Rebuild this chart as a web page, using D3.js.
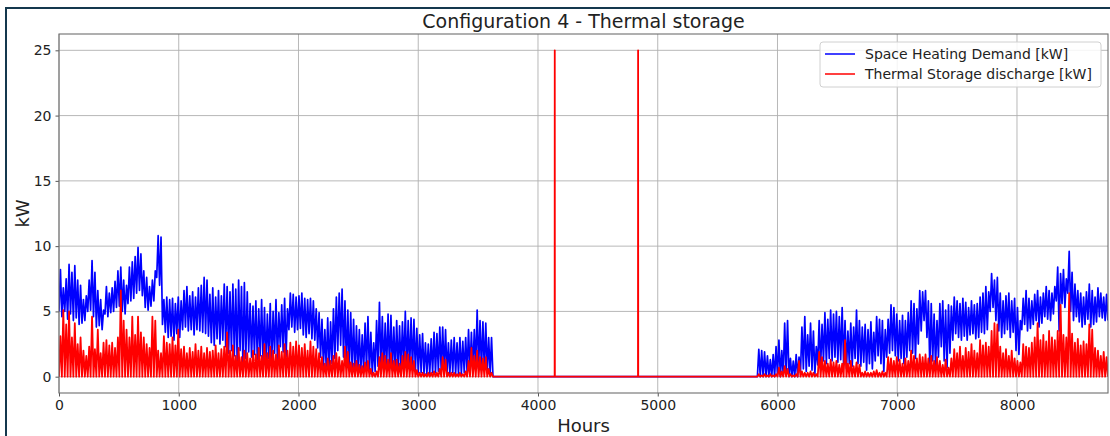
<!DOCTYPE html>
<html>
<head>
<meta charset="utf-8">
<script src="https://cdn.jsdelivr.net/npm/d3@7"></script>
<style>
  html, body { margin: 0; padding: 0; background: #fff; }
  svg { display: block; font-family: "DejaVu Sans", sans-serif; }
</style>
</head>
<body>
<svg id="chart" width="1110" height="436"></svg>
<script>
// ---------------- DATA ----------------
const title = "Configuration 4 - Thermal storage";
const xLabel = "Hours";
const yLabel = "kW";
const seriesNames = ["Space Heating Demand [kW]", "Thermal Storage discharge [kW]"];
const xTicks = [0, 1000, 2000, 3000, 4000, 5000, 6000, 7000, 8000];
const yTicks = [0, 5, 10, 15, 20, 25];
const hoursPerDay = 24;
const totalHours = 8760;

// Space heating demand: daily peak (kW), days 0..364
const demandDailyMax = [
 8.2,6.8,7.5,8.6,8.0,8.5,7.4,7.0,5.9,6.2,7.4,8.9,8.0,6.6,5.9,5.1,6.9,6.4,6.8,7.3,
 8.1,8.4,7.4,7.0,8.4,8.8,9.2,9.9,9.4,8.1,7.6,6.9,7.4,8.1,10.8,10.7,5.9,6.1,5.9,6.0,
 5.6,6.1,5.8,6.6,6.9,6.2,6.5,6.1,6.8,7.0,7.6,7.4,6.3,6.8,6.1,6.6,6.2,7.1,6.9,6.5,
 7.1,6.7,7.4,6.9,7.2,6.5,5.6,5.4,5.8,5.2,5.9,5.3,4.8,5.6,5.0,5.9,4.9,5.5,6.0,5.2,
 6.4,6.3,6.1,6.2,6.4,6.0,5.9,6.0,5.8,5.2,4.9,4.4,3.6,4.5,4.2,5.2,6.1,6.4,6.7,5.8,
 5.1,4.9,4.4,3.9,3.6,3.2,4.1,4.6,3.4,2.6,4.3,5.7,4.6,4.1,4.8,4.7,3.8,4.3,3.9,4.2,
 5.0,4.3,4.5,4.4,3.7,3.2,3.3,2.6,2.5,2.9,3.4,3.3,3.8,3.8,3.6,2.6,2.8,3.0,2.6,3.0,
 2.7,3.0,3.6,3.4,3.6,5.1,4.3,4.2,4.1,3.0,3.0,
 0,0,0,0,0,0,0,0,0,0,0,0,0,0,0,0,0,0,0,0,0,0,0,0,0,0,0,0,0,0,
 0,0,0,0,0,0,0,0,0,0,0,0,0,0,0,0,0,0,0,0,0,0,0,0,0,0,0,0,0,0,
 0,0,0,0,0,0,0,0,0,0,0,0,0,0,0,0,0,0,0,0,0,0,0,0,0,0,0,0,0,0,0,0,
 2.1,2.0,1.9,1.6,1.3,1.7,2.3,2.8,2.0,4.1,4.3,1.4,1.2,1.7,1.5,3.8,4.6,3.2,4.1,3.5,
 2.3,4.3,4.0,4.9,4.4,5.1,4.8,5.0,4.6,5.3,4.3,3.5,4.1,3.8,5.1,4.3,3.8,4.0,3.6,4.2,
 3.4,4.6,4.4,4.3,3.6,4.4,5.5,5.3,4.8,4.3,4.7,4.3,4.9,5.8,5.6,5.2,6.6,6.5,6.6,5.8,
 5.6,4.8,4.3,5.6,5.8,5.1,5.5,5.4,6.1,5.8,5.6,6.0,5.7,5.3,5.8,5.5,5.6,6.1,6.4,6.9,
 6.5,7.9,7.4,7.6,6.4,5.8,6.2,6.4,5.8,6.0,5.3,4.3,6.0,6.6,6.0,5.8,6.3,6.6,6.1,6.4,
 6.9,6.6,6.4,6.9,8.4,7.9,8.2,7.5,9.6,8.0,7.1,6.6,6.4,6.1,6.5,7.1,6.6,6.1,6.8,6.4,
 6.1,6.3
];

// Space heating demand: daily low (kW), days 0..364
const demandDailyMin = [
 5.0,4.6,5.0,4.4,4.8,4.3,4.5,4.0,4.1,4.3,5.0,5.1,4.6,3.8,3.9,3.6,4.8,4.6,4.9,5.0,
 5.3,5.4,5.0,4.8,5.6,5.8,6.0,6.4,6.6,6.2,5.3,5.1,5.4,5.8,7.6,7.0,4.0,3.4,3.0,3.1,
 2.8,3.3,3.0,3.6,3.8,3.5,3.6,3.2,3.6,3.5,3.4,3.3,3.1,2.6,2.4,2.9,2.5,2.8,2.3,1.8,
 2.0,1.6,1.2,2.0,0.8,1.4,1.9,1.5,1.7,1.3,1.6,1.2,1.0,1.4,0.9,1.8,1.3,2.3,1.9,1.5,
 3.6,3.8,3.4,3.6,3.7,3.2,3.0,3.3,2.9,2.8,2.2,1.5,0.8,0.6,0.5,1.0,1.4,2.0,2.4,1.5,
 0.8,0.6,0.5,0.4,0.4,0.3,0.5,0.6,0.3,0.2,0.4,0.8,0.6,0.5,0.7,0.6,0.5,0.4,0.4,0.5,
 0.7,0.5,0.6,0.5,0.4,0.3,0.3,0.2,0.2,0.2,0.3,0.3,0.4,0.4,0.3,0.2,0.2,0.3,0.2,0.2,
 0.2,0.3,0.3,0.3,0.4,0.8,0.6,0.5,0.5,0.3,0.2,
 0,0,0,0,0,0,0,0,0,0,0,0,0,0,0,0,0,0,0,0,0,0,0,0,0,0,0,0,0,0,
 0,0,0,0,0,0,0,0,0,0,0,0,0,0,0,0,0,0,0,0,0,0,0,0,0,0,0,0,0,0,
 0,0,0,0,0,0,0,0,0,0,0,0,0,0,0,0,0,0,0,0,0,0,0,0,0,0,0,0,0,0,0,0,
 0,0,0,0,0,0,0,0.1,0,0.1,0.2,0,0,0,0,0.3,0.6,0.4,0.8,0.5,
 0.2,0.9,0.7,1.2,1.0,1.4,1.2,1.5,1.1,1.3,0.9,0.6,1.0,0.8,1.4,1.0,0.8,1.1,0.5,1.0,
 0.6,1.2,1.6,1.0,0.4,1.5,1.8,2.0,1.6,1.2,1.4,1.0,1.5,2.0,1.8,1.4,2.5,3.5,4.3,3.0,
 0.7,1.2,0.8,1.5,2.3,1.2,0.7,1.8,2.8,3.3,3.0,2.8,3.1,2.8,3.2,3.3,2.9,3.0,3.4,3.3,
 3.6,5.0,5.3,4.3,3.5,3.0,3.3,3.6,3.0,3.4,2.0,1.7,3.6,4.0,3.5,3.7,4.0,4.3,3.8,4.1,
 4.6,4.4,4.3,4.8,5.8,3.5,5.6,5.3,6.4,5.0,4.3,4.6,4.2,3.8,4.0,4.4,3.8,4.0,4.2,4.6,
 4.5,4.3
];

// Thermal storage discharge: daily peak (kW), days 0..364 (0 = no discharge)
const storageDailyMax = [
 3.1,5.1,4.0,5.0,3.0,4.1,2.5,3.0,2.0,1.6,2.3,4.6,2.1,3.6,1.8,2.6,2.8,2.4,2.6,2.2,
 3.0,6.6,4.3,3.6,3.0,4.6,3.2,4.6,3.4,3.0,2.5,2.2,4.6,4.3,2.0,1.8,3.1,2.6,2.5,3.0,
 2.4,3.6,2.1,2.3,1.8,2.2,1.9,2.5,2.0,2.3,1.8,2.2,1.9,2.0,2.4,1.8,2.1,2.3,3.4,2.0,
 2.4,1.6,2.2,1.5,2.0,1.8,1.4,2.0,1.7,2.2,1.6,2.5,1.8,2.3,2.0,1.7,2.4,1.9,2.5,2.0,
 2.6,2.3,2.7,2.4,2.2,2.5,2.0,2.7,2.3,2.1,1.8,1.5,1.0,1.4,1.2,1.6,1.8,1.5,1.2,2.3,
 1.9,1.1,1.0,1.2,0.9,0.8,1.1,1.2,0.6,0.3,0.4,1.5,1.8,1.6,1.3,1.8,1.2,1.3,1.0,1.6,
 1.9,1.7,1.5,1.2,0.5,0.3,0.3,0.2,0.3,0.3,0.4,0.3,0.6,1.5,1.3,0.3,0.3,0.3,0.2,0.3,
 0.2,0.4,1.2,2.2,1.6,2.0,1.5,1.4,1.5,0.6,0.3,
 0,0,0,0,0,0,0,0,0,0,0,0,0,0,0,0,0,0,0,0,0,25,0,0,0,0,0,0,0,0,
 0,0,0,0,0,0,0,0,0,0,0,0,0,0,0,0,0,0,0,0,25,0,0,0,0,0,0,0,0,0,
 0,0,0,0,0,0,0,0,0,0,0,0,0,0,0,0,0,0,0,0,0,0,0,0,0,0,0,0,0,0,0,0,
 0.2,0.1,0.2,0.1,0.2,0.1,0.2,0.7,0.4,0.8,0.6,0.2,0.1,0.2,1.2,0.4,0.3,0.3,0.4,0.3,
 0.2,1.9,1.5,1.2,1.0,1.3,1.1,1.2,0.9,1.0,2.8,1.0,1.2,0.8,1.1,0.9,0.3,0.4,0.3,0.3,
 0.4,0.5,0.3,0.4,0.3,1.5,1.4,1.2,1.5,1.3,1.0,1.4,1.2,2.0,1.6,1.4,1.7,1.5,1.7,1.4,
 1.6,1.2,1.5,1.2,0.9,1.3,0.7,1.4,2.1,1.8,2.3,1.6,2.2,1.9,2.5,2.0,1.8,2.8,2.4,2.6,
 2.3,3.5,4.1,4.0,2.3,1.8,2.1,1.6,2.0,1.4,1.2,1.1,2.5,2.3,2.2,2.6,3.0,4.1,2.8,3.2,
 2.7,3.5,3.0,2.8,3.5,5.5,3.2,3.0,6.4,3.3,2.6,2.9,2.4,2.7,2.5,4.0,3.6,2.2,2.0,1.6,
 1.9,1.5
];

// ---------------- LAYOUT ----------------
const W = 1110, H = 436;
const plot = { left: 59, top: 34, right: 1108, bottom: 393 };
const colors = { demand: "#0000ff", storage: "#ff0000" };

const svg = d3.select("#chart");

// outer frame (notebook cell edge)
svg.append("path")
  .attr("d", `M6,${H} L6,8 L${W},8`)
  .attr("fill", "none").attr("stroke", "#14384d").attr("stroke-width", 2);

const x = d3.scaleLinear().domain([0, totalHours]).range([plot.left, plot.right]);
const y = d3.scaleLinear().domain([-1.25, 26.25]).range([plot.bottom, plot.top]);

// grid
const grid = svg.append("g");
grid.selectAll(".gx").data(xTicks).enter().append("line")
  .attr("x1", d => x(d)).attr("x2", d => x(d))
  .attr("y1", plot.top).attr("y2", plot.bottom)
  .attr("stroke", "#b0b0b0").attr("stroke-width", 0.9);
grid.selectAll(".gy").data(yTicks).enter().append("line")
  .attr("x1", plot.left).attr("x2", plot.right)
  .attr("y1", d => y(d)).attr("y2", d => y(d))
  .attr("stroke", "#b0b0b0").attr("stroke-width", 0.9);

// build series points from the daily readings
function demandPoints() {
  const pts = [];
  demandDailyMin.forEach((lo, d) => {
    pts.push([d * hoursPerDay, lo]);
    pts.push([d * hoursPerDay + 12, demandDailyMax[d]]);
  });
  pts.push([totalHours - 1, demandDailyMin[demandDailyMin.length - 1]]);
  return pts;
}
function storagePoints() {
  const pts = [];
  storageDailyMax.forEach((hi, d) => {
    pts.push([d * hoursPerDay + (hi > 10 ? 11 : 0), 0]);
    pts.push([d * hoursPerDay + 12, hi]);
    if (hi > 10) pts.push([d * hoursPerDay + 13, 0]);
  });
  pts.push([totalHours - 1, 0]);
  return pts;
}

svg.append("defs").append("clipPath").attr("id", "clip")
  .append("rect").attr("x", plot.left).attr("y", plot.top)
  .attr("width", plot.right - plot.left).attr("height", plot.bottom - plot.top);

const line = d3.line().x(d => x(d[0])).y(d => y(d[1]));
const lines = svg.append("g").attr("clip-path", "url(#clip)");
lines.append("path").datum(demandPoints())
  .attr("d", line).attr("fill", "none")
  .attr("stroke", colors.demand).attr("stroke-width", 1.7).attr("stroke-linejoin", "round");
lines.append("path").datum(storagePoints())
  .attr("d", line).attr("fill", "none")
  .attr("stroke", colors.storage).attr("stroke-width", 1.8).attr("stroke-linejoin", "round");

// axes
const xAxis = d3.axisBottom(x).tickValues(xTicks).tickSize(3.5).tickPadding(4).tickFormat(d3.format("d"));
const yAxis = d3.axisLeft(y).tickValues(yTicks).tickSize(3.5).tickPadding(4).tickFormat(d3.format("d"));
const gx = svg.append("g").attr("transform", `translate(0,${plot.bottom})`).call(xAxis);
const gy = svg.append("g").attr("transform", `translate(${plot.left},0)`).call(yAxis);
[gx, gy].forEach(g => {
  g.select(".domain").remove();
  g.selectAll(".tick line").attr("stroke", "#555");
  g.selectAll(".tick text").attr("fill", "#222").style("font-size", "14px").style("font-family", "DejaVu Sans");
});

// spines
svg.append("rect")
  .attr("x", plot.left).attr("y", plot.top)
  .attr("width", plot.right - plot.left).attr("height", plot.bottom - plot.top)
  .attr("fill", "none").attr("stroke", "#6e6e6e").attr("stroke-width", 1.1);

// title & labels
svg.append("text").attr("x", (plot.left + plot.right) / 2).attr("y", 28)
  .attr("text-anchor", "middle").attr("fill", "#222").style("font-size", "19px").text(title);
svg.append("text").attr("x", (plot.left + plot.right) / 2).attr("y", 432)
  .attr("text-anchor", "middle").attr("fill", "#222").style("font-size", "18px").text(xLabel);
svg.append("text")
  .attr("transform", `translate(29,${(plot.top + plot.bottom) / 2}) rotate(-90)`)
  .attr("text-anchor", "middle").attr("fill", "#222").style("font-size", "18px").text(yLabel);

// legend
const lg = svg.append("g").attr("transform", "translate(820,42)");
lg.append("rect").attr("width", 281).attr("height", 45).attr("rx", 3)
  .attr("fill", "#fff").attr("fill-opacity", 0.85).attr("stroke", "#d0d0d0");
[colors.demand, colors.storage].forEach((c, i) => {
  const yy = 12 + i * 20;
  lg.append("line").attr("x1", 5).attr("x2", 35).attr("y1", yy).attr("y2", yy)
    .attr("stroke", c).attr("stroke-width", 1.5);
  lg.append("text").attr("x", 45).attr("y", yy + 5).attr("fill", "#222")
    .style("font-size", "14px").text(seriesNames[i]);
});
</script>
</body>
</html>
